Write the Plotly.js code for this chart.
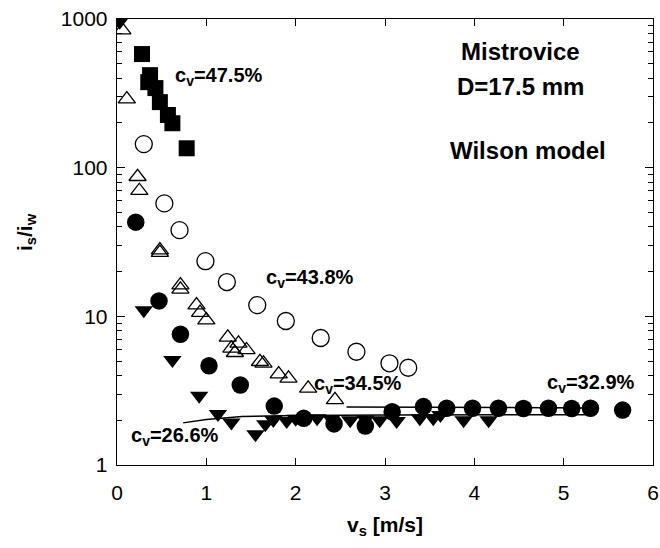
<!DOCTYPE html>
<html>
<head>
<meta charset="utf-8">
<script src="https://cdn.plot.ly/plotly-3.0.1.min.js"></script>
<style>html,body{margin:0;padding:0;background:#fff;}#chart{width:660px;height:548px;}</style>
</head>
<body>
<div id="chart"></div>
<script>
// cv = 47.5 % (filled squares)
const sqX = [0.28, 0.37, 0.35, 0.43, 0.48, 0.57, 0.62, 0.78];
const sqY = [581, 419, 376, 343, 276, 226, 199, 135];
// cv = 43.8 % (open circles)
const ocX = [0.30, 0.53, 0.70, 0.99, 1.23, 1.57, 1.89, 2.28, 2.68, 3.05, 3.26];
const ocY = [144, 57.5, 38, 23.5, 17, 11.9, 9.3, 7.15, 5.78, 4.83, 4.51];
// cv = 34.5 % (open triangles)
const otX = [0.06, 0.11, 0.23, 0.25, 0.48, 0.48, 0.71, 0.71, 0.89, 0.93, 1.00, 1.24, 1.28, 1.32, 1.36, 1.45, 1.60, 1.64, 1.81, 1.92, 2.14, 2.44];
const otY = [842, 289, 86.9, 70, 27.9, 26.8, 16.2, 15.2, 11.9, 10.6, 9.44, 7.22, 6.09, 5.69, 6.58, 5.94, 4.95, 4.83, 4.09, 3.83, 3.28, 2.74];
// cv = 32.9 % (filled circles)
const fcX = [0.21, 0.47, 0.71, 1.03, 1.38, 1.76, 2.09, 2.43, 2.78, 3.08, 3.43, 3.69, 3.98, 4.27, 4.55, 4.83, 5.09, 5.30, 5.66];
const fcY = [43, 12.7, 7.57, 4.65, 3.45, 2.49, 2.06, 1.89, 1.83, 2.28, 2.47, 2.41, 2.41, 2.41, 2.40, 2.41, 2.40, 2.41, 2.34];
// cv = 26.6 % (filled down triangles)
const dtX = [0.03, 0.30, 0.62, 0.92, 1.13, 1.28, 1.55, 1.66, 1.75, 1.90, 2.0, 2.24, 2.40, 2.61, 2.78, 2.94, 3.13, 3.39, 3.54, 3.62, 3.88, 4.16];
const dtY = [960, 11.0, 5.08, 2.92, 2.2, 1.93, 1.61, 1.88, 2.01, 1.98, 2.05, 2.06, 2.03, 2.0, 2.02, 2.0, 1.98, 2.06, 2.06, 2.17, 2.0, 2.0];
// Wilson model curves
const wAX = [0.74, 1.0, 1.4, 2.0, 3.0, 4.0, 5.3];
const wAY = [1.92, 2.02, 2.12, 2.15, 2.17, 2.18, 2.18];
const wBX = [2.57, 3.0, 4.0, 5.3];
const wBY = [2.46, 2.45, 2.43, 2.42];

const FONT = "Liberation Sans, Arial, sans-serif";
const traces = [
  {x: wAX, y: wAY, mode: 'lines', line: {color: '#000', width: 1.5}, hoverinfo: 'skip'},
  {x: wBX, y: wBY, mode: 'lines', line: {color: '#000', width: 1.5}, hoverinfo: 'skip'},
  {x: sqX, y: sqY, mode: 'markers', marker: {symbol: 'square', size: 16, color: '#000'}},
  {x: ocX, y: ocY, mode: 'markers', marker: {symbol: 'circle-open', size: 17, color: '#000', line: {width: 1.3}}},
  {x: otX, y: otY, mode: 'markers', marker: {symbol: 'triangle-up-open', size: 15, color: '#000', line: {width: 1.3}}},
  {x: fcX, y: fcY, mode: 'markers', marker: {symbol: 'circle', size: 17.5, color: '#000'}},
  {x: dtX, y: dtY, mode: 'markers', marker: {symbol: 'triangle-down', size: 16, color: '#000'}}
];

function ann(x, y, text, size, xanchor) {
  return {xref: 'paper', yref: 'paper', x: x, y: y, text: text, showarrow: false,
    xanchor: xanchor || 'center', yanchor: 'middle', font: {family: FONT, size: size, color: '#000'}};
}
// paper coords: plot x from 117 to 653 (536 px), y from 19 to 465 (446 px)
function px(p) { return (p - 117) / 536; }
function py(p) { return (465 - p) / 446; }

const yTitle = ann(px(26), py(232), '<b>i<sub>s</sub>/i<sub>w</sub></b>', 21);
yTitle.textangle = -90;

const layout = {
  width: 660, height: 548,
  margin: {l: 117, r: 7, t: 19, b: 83},
  paper_bgcolor: '#fff', plot_bgcolor: '#fff',
  showlegend: false,
  font: {family: FONT, color: '#000'},
  xaxis: {
    range: [0, 6], dtick: 1, tick0: 0,
    showgrid: false, zeroline: false,
    showline: true, linecolor: '#000', linewidth: 1.3, mirror: 'ticks',
    ticks: 'inside', ticklen: 7, tickwidth: 1, tickcolor: '#000',
    ticklabelstandoff: 8,
    tickfont: {family: FONT, size: 21, color: '#000'},
    title: {text: '<b>v<sub>s</sub> [m/s]</b>', font: {family: FONT, size: 21, color: '#000'}, standoff: 14}
  },
  yaxis: {
    type: 'log', range: [0, 3], dtick: 1,
    showgrid: false, zeroline: false,
    showline: true, linecolor: '#000', linewidth: 1.3, mirror: 'ticks',
    ticks: 'inside', ticklen: 8, tickwidth: 1, tickcolor: '#000',
    ticklabelstandoff: 4,
    tickfont: {family: FONT, size: 21, color: '#000'},
    minor: {ticks: 'inside', ticklen: 5, tickcolor: '#000', showgrid: false}
  },
  annotations: [
    yTitle,
    ann(px(219), py(76), '<b>c<sub>v</sub>=47.5%</b>', 20),
    ann(px(310), py(278), '<b>c<sub>v</sub>=43.8%</b>', 20),
    ann(px(358), py(384), '<b>c<sub>v</sub>=34.5%</b>', 20),
    ann(px(591), py(383), '<b>c<sub>v</sub>=32.9%</b>', 20),
    ann(px(175), py(436), '<b>c<sub>v</sub>=26.6%</b>', 20),
    ann(px(520), py(52), '<b>Mistrovice</b>', 24),
    ann(px(520), py(86), '<b>D=17.5 mm</b>', 24),
    ann(px(528), py(151), '<b>Wilson model</b>', 24)
  ]
};

Plotly.newPlot('chart', traces, layout, {staticPlot: true, displayModeBar: false});
</script>
</body>
</html>
